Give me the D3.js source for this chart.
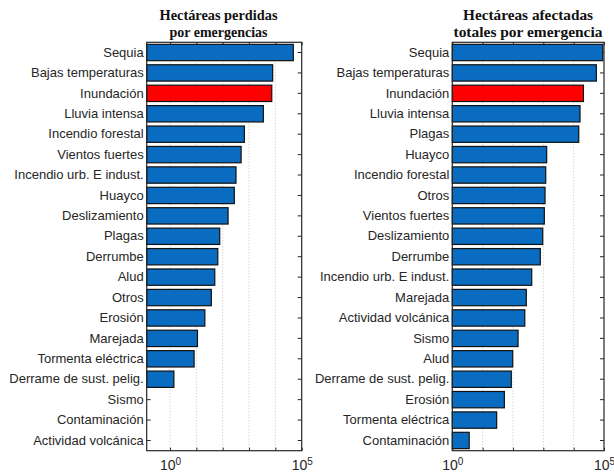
<!DOCTYPE html>
<html>
<head>
<meta charset="utf-8">
<script src="https://cdn.jsdelivr.net/npm/d3@7"></script>
<style>
  html, body { margin: 0; padding: 0; background: #fff; }
  svg { display: block; }
</style>
</head>
<body>
<svg id="chart" width="614" height="475"></svg>
<script>
// Hectares lost per emergency type
const lostCategories = [
  "Sequia", "Bajas temperaturas", "Inundación", "Lluvia intensa", "Incendio forestal",
  "Vientos fuertes", "Incendio urb. E indust.", "Huayco", "Deslizamiento", "Plagas",
  "Derrumbe", "Alud", "Otros", "Erosión", "Marejada", "Tormenta eléctrica",
  "Derrame de sust. pelig.", "Sismo", "Contaminación", "Actividad volcánica"
];
const lostValues = [
  48000, 7900, 7300, 3500, 665,
  500, 320, 276, 160, 77,
  65, 50, 37, 21, 11, 8.2,
  1.4, 0, 0, 0
];

// Total hectares affected per emergency type
const affectedCategories = [
  "Sequia", "Bajas temperaturas", "Inundación", "Lluvia intensa", "Plagas",
  "Huayco", "Incendio forestal", "Otros", "Vientos fuertes", "Deslizamiento",
  "Derrumbe", "Incendio urb. E indust.", "Marejada", "Actividad volcánica", "Sismo",
  "Alud", "Derrame de sust. pelig.", "Erosión", "Tormenta eléctrica", "Contaminación"
];
const affectedValues = [
  91000, 56000, 21000, 16200, 14700,
  1290, 1200, 1140, 1080, 955,
  795, 415, 275, 245, 147,
  98, 88, 52, 29, 3.6
];

const highlightCategory = "Inundación";
const decadeTicks = [1, 10, 100, 1000, 10000, 100000];
const labelledTicks = [1, 100000];

const svg = d3.select("#chart");
const AXIS_COLOR = "#262626";
const BAR_BLUE = "#0a6cc0";
const BAR_RED = "#ff0000";

function drawPanel(opts) {
  const { categories, values, xDomain, left, right, top, bottom, titleLines, titleWidths, titleX } = opts;

  const x = d3.scaleLog().domain(xDomain).range([left, right]);
  const y = d3.scaleBand().domain(categories).range([top, bottom])
    .paddingInner(0.2).paddingOuter(0.1);

  const g = svg.append("g");

  // dotted vertical grid at each decade inside the plot
  g.append("g").selectAll("line")
    .data(decadeTicks.filter(d => x(d) > left + 1 && x(d) < right - 1))
    .join("line")
    .attr("x1", d => x(d)).attr("x2", d => x(d))
    .attr("y1", top).attr("y2", bottom)
    .attr("stroke", "#bdbdbd")
    .attr("stroke-width", 0.9)
    .attr("stroke-dasharray", "1,2");

  // bottom axis: inward ticks, labels only at the ends
  const xb = g.append("g")
    .attr("transform", `translate(0,${bottom})`)
    .call(d3.axisBottom(x).tickValues(decadeTicks).tickSizeInner(-3).tickSizeOuter(0)
      .tickPadding(9).tickFormat(() => ""));
  xb.select(".domain").remove();
  xb.selectAll(".tick line").attr("stroke", AXIS_COLOR);
  xb.selectAll(".tick text").each(function (d) {
    const t = d3.select(this);
    if (!labelledTicks.includes(d)) return;
    t.attr("font-family", "'Liberation Sans', Arial, sans-serif")
      .attr("font-size", 14).attr("fill", AXIS_COLOR);
    t.append("tspan").text("10");
    t.append("tspan").attr("dy", "-0.5em").attr("font-size", 10)
      .text(String(Math.round(Math.log10(d))));
  });

  // top axis: inward ticks, no labels
  const xt = g.append("g")
    .attr("transform", `translate(0,${top})`)
    .call(d3.axisTop(x).tickValues(decadeTicks).tickSizeInner(-3).tickSizeOuter(0)
      .tickFormat(() => ""));
  xt.select(".domain").remove();
  xt.selectAll(".tick line").attr("stroke", AXIS_COLOR);

  // right axis: inward category ticks
  const yr = g.append("g")
    .attr("transform", `translate(${right},0)`)
    .call(d3.axisRight(y).tickSizeInner(-4).tickSizeOuter(0).tickFormat(() => ""));
  yr.select(".domain").remove();
  yr.selectAll(".tick line").attr("stroke", AXIS_COLOR);

  // left axis with category labels
  const yl = g.append("g")
    .attr("transform", `translate(${left},0)`)
    .call(d3.axisLeft(y).tickSizeInner(-4).tickSizeOuter(0).tickPadding(3));
  yl.select(".domain").remove();
  yl.selectAll(".tick line").attr("stroke", AXIS_COLOR);
  yl.selectAll(".tick text")
    .attr("font-family", "'Liberation Sans', Arial, sans-serif")
    .attr("font-size", 13)
    .attr("fill", AXIS_COLOR);

  // bars (log scale: zero-valued categories have no bar)
  const rows = categories.map((c, i) => ({ c, v: values[i] }));
  g.append("g").selectAll("rect")
    .data(rows.filter(r => r.v > 0))
    .join("rect")
    .attr("x", left)
    .attr("y", r => y(r.c))
    .attr("width", r => Math.max(0, x(r.v) - left))
    .attr("height", y.bandwidth())
    .attr("fill", r => r.c === highlightCategory ? BAR_RED : BAR_BLUE)
    .attr("stroke", "#111")
    .attr("stroke-width", 1.2);

  // axes box
  g.append("rect")
    .attr("x", left).attr("y", top)
    .attr("width", right - left).attr("height", bottom - top)
    .attr("fill", "none")
    .attr("stroke", AXIS_COLOR)
    .attr("stroke-width", 1.2);

  // two-line title, one text element per line
  titleLines.forEach((line, i) => {
    g.append("text")
      .attr("x", titleX).attr("y", 19.5 + i * 17.5)
      .attr("text-anchor", "middle")
      .attr("font-family", "'Liberation Serif', 'Times New Roman', serif")
      .attr("font-weight", "bold")
      .attr("font-size", 15)
      .attr("fill", "#111")
      .attr("textLength", titleWidths[i])
      .attr("lengthAdjust", "spacingAndGlyphs")
      .text(line);
  });
}

drawPanel({
  categories: lostCategories,
  values: lostValues,
  xDomain: [0.13, 100000],
  left: 146.7, right: 301.7, top: 42.3, bottom: 450.7,
  titleLines: ["Hectáreas perdidas", "por emergencias"],
  titleWidths: [118, 98],
  titleX: 218.5
});

drawPanel({
  categories: affectedCategories,
  values: affectedValues,
  xDomain: [1, 100000],
  left: 452.3, right: 604, top: 42.3, bottom: 450.7,
  titleLines: ["Hectáreas afectadas", "totales por emergencia"],
  titleWidths: [130, 149],
  titleX: 528
});
</script>
</body>
</html>
